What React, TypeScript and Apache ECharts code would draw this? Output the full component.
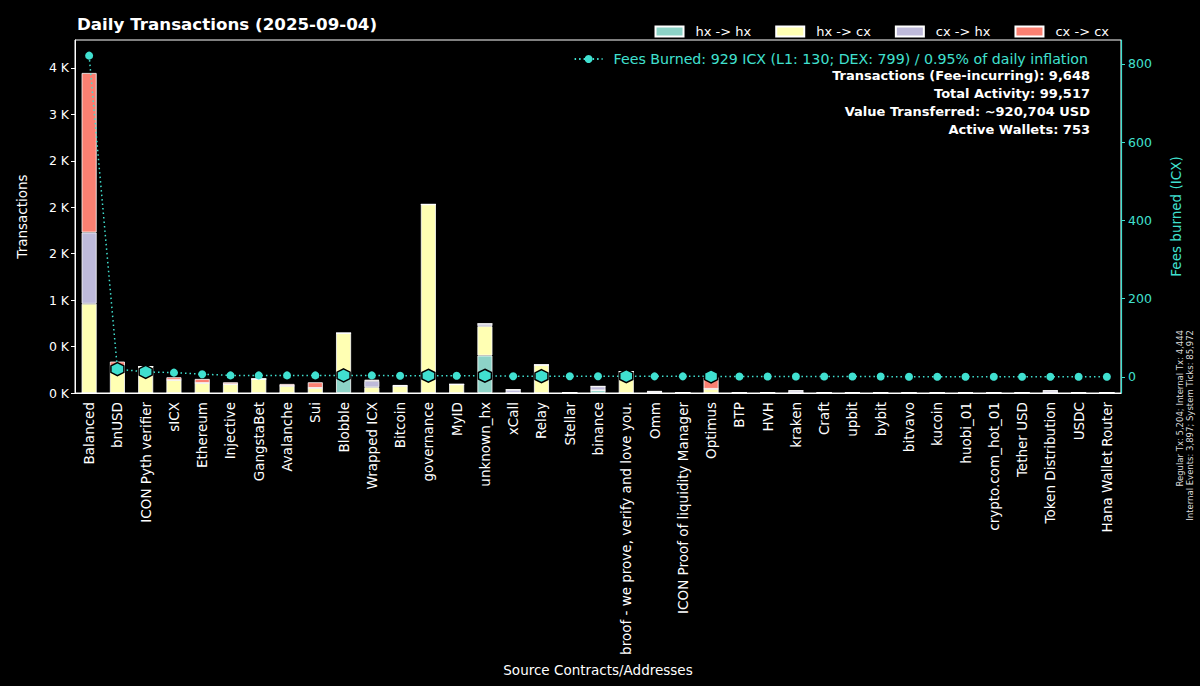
import React, { useEffect, useRef } from "react";
import * as echarts from "echarts";

const categories = [
  "Balanced", "bnUSD", "ICON Pyth verifier", "sICX", "Ethereum", "Injective", "GangstaBet",
  "Avalanche", "Sui", "Blobble", "Wrapped ICX", "Bitcoin", "governance", "MyID", "unknown_hx",
  "xCall", "Relay", "Stellar", "binance", "broof - we prove, verify and love you.", "Omm",
  "ICON Proof of liquidity Manager", "Optimus", "BTP", "HVH", "kraken", "Craft", "upbit", "bybit",
  "bitvavo", "kucoin", "huobi_01", "crypto.com_hot_01", "Tether USD", "Token Distribution", "USDC",
  "Hana Wallet Router",
];

const hxToHx = [0, 0, 0, 0, 0, 0, 0, 0, 0, 180, 0, 0, 0, 0, 403, 0, 0, 0, 30, 0, 0, 0, 0, 0, 0, 0, 0, 0, 0, 0, 0, 0, 0, 0, 0, 0, 0];
const hxToCx = [961, 283, 284, 140, 108, 95, 151, 77, 55, 464, 62, 76, 2030, 93, 316, 0, 302, 0, 0, 230, 0, 0, 45, 0, 0, 0, 0, 0, 0, 0, 0, 0, 0, 0, 0, 0, 0];
const cxToHx = [767, 0, 0, 0, 0, 0, 0, 0, 0, 0, 68, 0, 0, 0, 26, 36, 0, 5, 41, 0, 17, 3, 0, 0, 0, 25, 3, 3, 3, 0, 0, 0, 0, 0, 25, 0, 2];
const cxToCx = [1717, 55, 0, 29, 43, 20, 0, 20, 60, 0, 13, 10, 0, 0, 0, 0, 0, 0, 0, 0, 0, 0, 124, 0, 0, 0, 0, 0, 0, 0, 0, 0, 0, 0, 0, 0, 0];

const feesBurned = [821, 20, 13, 11, 7, 4, 4, 4, 4, 4, 4, 3, 3, 3, 3, 2, 2, 2, 2, 2, 1.5, 1.5, 1.5, 1, 1, 1, 1, 1, 1, 0.5, 0.5, 0.5, 0.5, 0.5, 0.5, 0.5, 0.5];
const hexMarker = [false, true, true, false, false, false, false, false, false, true, false, false, true, false, true, false, true, false, false, true, false, false, true, false, false, false, false, false, false, false, false, false, false, false, false, false, false];

const leftTickValues = [0, 500, 1000, 1500, 2000, 2500, 3000, 3500];
const leftTickLabels = ["0 K", "0 K", "1 K", "2 K", "2 K", "2 K", "3 K", "4 K"];
const rightTickValues = [0, 200, 400, 600, 800];

const seriesNames = ["hx -> hx", "hx -> cx", "cx -> hx", "cx -> cx"];
const seriesColors = ["#8dd3c7", "#ffffb3", "#bebada", "#fb8072"];

const feeLabel = "Fees Burned: 929 ICX (L1: 130; DEX: 799) / 0.95% of daily inflation";
const statsLines = [
  "Transactions (Fee-incurring): 9,648",
  "Total Activity: 99,517",
  "Value Transferred: ~920,704 USD",
  "Active Wallets: 753",
];
const footLines = [
  "Regular Tx: 5,204; Internal Tx: 4,444",
  "Internal Events: 3,897; System Ticks: 85,972",
];

const TURQ = "#40e0d0";
const FONT = "DejaVu Sans";
const HEX = "path://M0,-1L0.866,-0.5L0.866,0.5L0,1L-0.866,0.5L-0.866,-0.5Z";

export default function App() {
  const ref = useRef<HTMLDivElement>(null);
  useEffect(() => {
    if (!ref.current) return;
    const chart = echarts.init(ref.current, undefined, { renderer: "svg" });
    const barData = [hxToHx, hxToCx, cxToHx, cxToCx];
    const bars = barData.map((d, i) => ({
      name: seriesNames[i],
      type: "bar",
      stack: "tx",
      barWidth: 15,
      data: d,
      itemStyle: { color: seriesColors[i], borderColor: "#ffffff", borderWidth: 0.8 },
      z: 2,
    }));
    const feeData = feesBurned.map((v, i) =>
      hexMarker[i]
        ? { value: v, symbol: HEX, symbolSize: 13, itemStyle: { color: TURQ, borderColor: "#000", borderWidth: 1.5 } }
        : { value: v, symbol: "circle", symbolSize: 8, itemStyle: { color: TURQ, borderWidth: 0 } }
    );
    const option: any = {
      animation: false,
      backgroundColor: "#000000",
      textStyle: { fontFamily: FONT },
      title: {
        text: "Daily Transactions (2025-09-04)",
        left: 72,
        top: 10,
        textStyle: { color: "#ffffff", fontSize: 16.7, fontWeight: "bold", fontFamily: FONT },
      },
      legend: [
        {
          data: seriesNames,
          right: 91,
          top: 25,
          padding: 0,
          icon: "rect",
          itemWidth: 28,
          itemHeight: 10,
          itemGap: 24,
          textStyle: { color: "#ffffff", fontSize: 13, fontFamily: FONT, padding: [0, 0, 0, 7] },
        },
        {
          data: [feeLabel],
          right: 112,
          top: 52,
          padding: 0,
          itemWidth: 28,
          itemHeight: 10,
          textStyle: { color: TURQ, fontSize: 14.2, fontFamily: FONT, padding: [0, 0, 0, 6] },
        },
      ],
      grid: {
        left: 75,
        right: 79,
        top: 40,
        bottom: 293,
        show: true,
        borderColor: "#ffffff",
        borderWidth: 1,
        containLabel: false,
      },
      xAxis: {
        type: "category",
        data: categories,
        name: "Source Contracts/Addresses",
        nameLocation: "middle",
        nameGap: 269,
        nameTextStyle: { color: "#ffffff", fontSize: 13.5, fontFamily: FONT },
        axisLine: { lineStyle: { color: "#ffffff", width: 1 } },
        axisTick: { alignWithLabel: true, length: 4, lineStyle: { color: "#ffffff" } },
        axisLabel: { rotate: 90, interval: 0, color: "#ffffff", fontSize: 13.5, margin: 9, fontFamily: FONT },
      },
      yAxis: [
        {
          type: "value",
          min: 0,
          max: 3800,
          name: "Transactions",
          nameLocation: "middle",
          nameGap: 46,
          nameRotate: 90,
          nameTextStyle: { color: "#ffffff", fontSize: 13.5, fontFamily: FONT },
          axisLine: { show: true, lineStyle: { color: "#ffffff" } },
          axisTick: { show: true, length: 4, lineStyle: { color: "#ffffff" }, customValues: leftTickValues },
          axisLabel: {
            color: "#ffffff",
            fontSize: 12.5,
            margin: 6,
            customValues: leftTickValues,
            formatter: (v: number) => {
              const idx = leftTickValues.indexOf(v);
              return idx >= 0 ? leftTickLabels[idx] : "";
            },
          },
          splitLine: { show: false },
        },
        {
          type: "value",
          min: -41,
          max: 861,
          position: "right",
          name: "Fees burned (ICX)",
          nameLocation: "middle",
          nameGap: 48,
          nameRotate: 90,
          nameTextStyle: { color: TURQ, fontSize: 13.5, fontFamily: FONT },
          axisLine: { show: true, lineStyle: { color: TURQ, width: 1.2 } },
          axisTick: { show: true, length: 4, lineStyle: { color: TURQ }, customValues: rightTickValues },
          axisLabel: { color: TURQ, fontSize: 12.5, margin: 7, customValues: rightTickValues },
          splitLine: { show: false },
        },
      ],
      series: [
        ...bars,
        {
          name: feeLabel,
          type: "line",
          yAxisIndex: 1,
          data: feeData,
          symbol: "circle",
          symbolSize: 8,
          lineStyle: { color: TURQ, width: 1.5, type: [1.5, 3] },
          itemStyle: { color: TURQ },
          z: 5,
        },
      ],
      graphic: [
        ...statsLines.map((t, i) => ({
          type: "text",
          x: 1090,
          y: 75 + i * 18,
          style: {
            text: t,
            fill: "#ffffff",
            font: `bold 13px "${FONT}"`,
            textAlign: "right",
            textVerticalAlign: "middle",
          },
        })),
        ...footLines.map((t, i) => ({
          type: "text",
          x: 1180 + i * 10,
          y: 330,
          rotation: Math.PI / 2,
          style: {
            text: t,
            fill: "#dddddd",
            font: `8.5px "${FONT}"`,
            textAlign: "right",
            textVerticalAlign: "middle",
          },
        })),
      ],
    };
    chart.setOption(option);
    return () => chart.dispose();
  }, []);
  return (
    <div
      ref={ref}
      style={{ position: "fixed", left: 0, top: 0, width: 1200, height: 686, background: "#000" }}
    />
  );
}
